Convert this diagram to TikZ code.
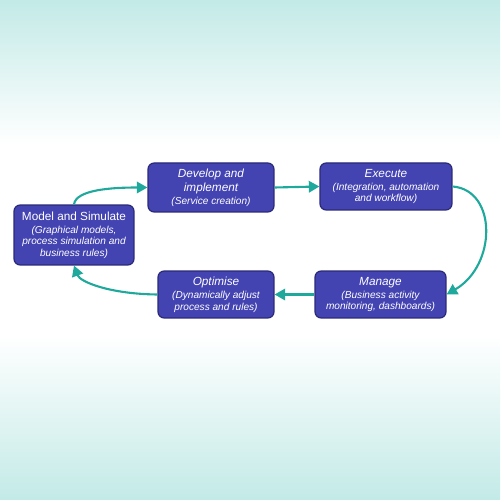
\documentclass[tikz,border=0pt]{standalone}
\usepackage{fontspec}
\setmainfont{Liberation Sans}
\usetikzlibrary{arrows.meta}
\definecolor{boxfill}{HTML}{4343B2}
\definecolor{boxedge}{HTML}{2A2A78}
\definecolor{arrowteal}{HTML}{1FA89C}
\definecolor{bgteal}{HTML}{C3EAE7}
\newcommand{\ttl}{\fontsize{6.7}{7.9}\selectfont}
\newcommand{\ttli}{\fontsize{6.7}{7.9}\selectfont\itshape}
\begin{document}
\begin{tikzpicture}[x=0.02cm,y=0.02cm,
  procbox/.style={draw=boxedge, line width=0.7pt, fill=boxfill, rounded corners=3.5pt,
    text=white, align=center, inner sep=0pt,
    font=\fontsize{5.75}{6.5}\selectfont\itshape},
  flow/.style={draw=arrowteal, line width=1.2pt,
    -{Triangle[length=6pt,width=6.5pt]}}]
\useasboundingbox (0,0) rectangle (500,500);
\fill[bottom color=white, top color=bgteal] (0,355) rectangle (500,500);
\fill[white] (0,165) rectangle (500,355);
\fill[top color=white, bottom color=bgteal] (0,0) rectangle (500,165);

\node[procbox, minimum width=2.4cm, minimum height=1.2cm] (model) at (74,265)
  {{\ttl\upshape Model and Simulate}\\[0.8pt] (Graphical models,\\ process simulation and\\ business rules)};
\node[procbox, minimum width=2.52cm, minimum height=0.98cm] (develop) at (211,312.5)
  {{\ttli Develop and}\\[1.7pt] {\ttli implement}\\[0.9pt] (Service creation)};
\node[procbox, minimum width=2.64cm, minimum height=0.94cm] (execute) at (386,313.5)
  {{\ttli Execute}\\[1.2pt] (Integration, automation\\ and workflow)};
\node[procbox, minimum width=2.62cm, minimum height=0.94cm] (manage) at (380.5,205.5)
  {{\ttli Manage}\\[1.2pt] (Business activity\\ monitoring, dashboards)};
\node[procbox, minimum width=2.32cm, minimum height=0.94cm] (optimise) at (216,205.5)
  {{\ttli Optimise}\\[1.2pt] (Dynamically adjust\\ process and rules)};

\draw[flow] (model.north) .. controls (76,310) and (110,312.5) .. (develop.west);
\draw[flow] (develop.east) -- (execute.west);
\draw[flow] (execute.east) .. controls (497,310) and (497,235) .. (manage.east);
\draw[flow] (manage.west) -- (optimise.east);
\draw[flow] (optimise.west) .. controls (110,206) and (80,218) .. (model.south);
\end{tikzpicture}
\end{document}
